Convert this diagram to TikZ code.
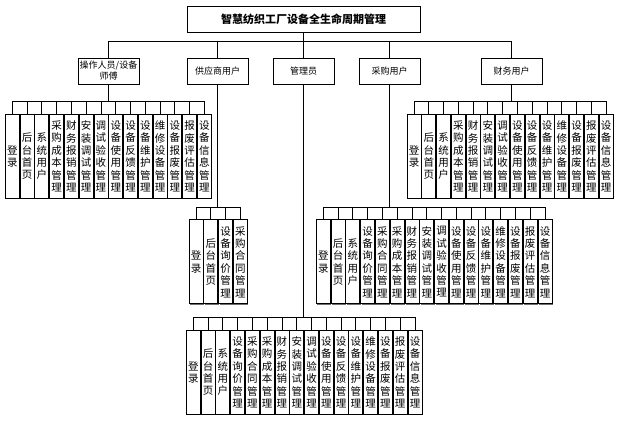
\documentclass[tikz,border=0pt]{standalone}
\usepackage{fontspec}
\setmainfont{Noto Sans CJK SC}
\usepackage{tikz}
\usetikzlibrary{positioning, shadows}
\definecolor{lline}{RGB}{0,0,0}
\definecolor{lshadow}{RGB}{110,110,110}

\tikzset{
  rootbox/.style={draw=lline,fill=white,line width=0.9pt,minimum width=233pt,minimum height=26pt,
                  inner sep=1pt,font=\fontsize{11}{13}\selectfont\bfseries},
  rolebox/.style={draw=lline,fill=white,line width=0.9pt,minimum width=61pt,minimum height=26pt,
                  align=center,inner sep=1pt,font=\fontsize{9}{11}\selectfont,
                  drop shadow={shadow xshift=1pt,shadow yshift=-1pt,fill=lshadow,opacity=1}},
  leafbox/.style={draw=lline,fill=white,line width=0.9pt,minimum width=14pt,minimum height=84pt,
                  anchor=north,align=center,inner sep=0pt,font=\fontsize{10.5}{12.4}\selectfont,
                  drop shadow={shadow xshift=1pt,shadow yshift=-1pt,fill=lshadow,opacity=1}},
  link/.style={draw=lline,line width=0.9pt}
}

\begin{document}
\begin{tikzpicture}[x=1pt,y=-1pt]
  \useasboundingbox (0,0) rectangle (619,422);
  \def\pitch{14.78}
  % leaf lists (one char per line)
  \def\opleaves{{登\\录},{后\\台\\首\\页},{系\\统\\用\\户},{采\\购\\成\\本\\管\\理},{财\\务\\报\\销\\管\\理},
    {安\\装\\调\\试\\管\\理},{调\\试\\验\\收\\管\\理},{设\\备\\使\\用\\管\\理},{设\\备\\反\\馈\\管\\理},
    {设\\备\\维\\护\\管\\理},{维\\修\\设\\备\\管\\理},{设\\备\\报\\废\\管\\理},{报\\废\\评\\估\\管\\理},
    {设\\备\\信\\息\\管\\理}}
  \def\supleaves{{登\\录},{后\\台\\首\\页},{设\\备\\询\\价\\管\\理},{采\\购\\合\\同\\管\\理}}
  \def\allleaves{{登\\录},{后\\台\\首\\页},{系\\统\\用\\户},{设\\备\\询\\价\\管\\理},{采\\购\\合\\同\\管\\理},
    {采\\购\\成\\本\\管\\理},{财\\务\\报\\销\\管\\理},{安\\装\\调\\试\\管\\理},{调\\试\\验\\收\\管\\理},
    {设\\备\\使\\用\\管\\理},{设\\备\\反\\馈\\管\\理},{设\\备\\维\\护\\管\\理},{维\\修\\设\\备\\管\\理},
    {设\\备\\报\\废\\管\\理},{报\\废\\评\\估\\管\\理},{设\\备\\信\\息\\管\\理}}

  \node[rootbox] (root) at (303.5,19) {智慧纺织工厂设备全生命周期管理};
  \coordinate (rootbar) at (303.5,41);
  \draw[link] (root.south) -- (rootbar);

  % user roles
  \node[rolebox] (op)  at (108.5,71) {操作人员/设备\\师傅};
  \node[rolebox] (sup) at (217.5,71) {供应商用户};
  \node[rolebox] (adm) at (303.5,71) {管理员};
  \node[rolebox] (pur) at (389.5,71) {采购用户};
  \node[rolebox] (fin) at (511.5,71) {财务用户};
  \foreach \r in {op,sup,adm,pur,fin}
    \draw[link] (\r.north) |- (rootbar);

  % operator / technician
  \coordinate (opbar) at (108.5,101);
  \draw[link] (op.south) -- (opbar);
  \foreach \lbl [count=\i from 0] in \opleaves {
    \node[leafbox] (op-\i) at ({12.3+\i*\pitch},114) {\lbl};
    \draw[link] (op-\i.north) |- (opbar);
  }

  % supplier
  \coordinate (supbar) at (217.5,207);
  \draw[link] (sup.south) -- (supbar);
  \foreach \lbl [count=\i from 0] in \supleaves {
    \node[leafbox] (sup-\i) at ({196+\i*\pitch},219.5) {\lbl};
    \draw[link] (sup-\i.north) |- (supbar);
  }

  % purchasing
  \coordinate (purbar) at (389.5,207);
  \draw[link] (pur.south) -- (purbar);
  \foreach \lbl [count=\i from 0] in \allleaves {
    \node[leafbox] (pur-\i) at ({323.3+\i*\pitch},219.5) {\lbl};
    \draw[link] (pur-\i.north) |- (purbar);
  }

  % admin
  \coordinate (admbar) at (303.5,317);
  \draw[link] (adm.south) -- (admbar);
  \foreach \lbl [count=\i from 0] in \allleaves {
    \node[leafbox] (adm-\i) at ({193.3+\i*\pitch},330) {\lbl};
    \draw[link] (adm-\i.north) |- (admbar);
  }

  % finance
  \coordinate (finbar) at (511.5,101);
  \draw[link] (fin.south) -- (finbar);
  \foreach \lbl [count=\i from 0] in \opleaves {
    \node[leafbox] (fin-\i) at ({414+\i*\pitch},114) {\lbl};
    \draw[link] (fin-\i.north) |- (finbar);
  }
\end{tikzpicture}
\end{document}
